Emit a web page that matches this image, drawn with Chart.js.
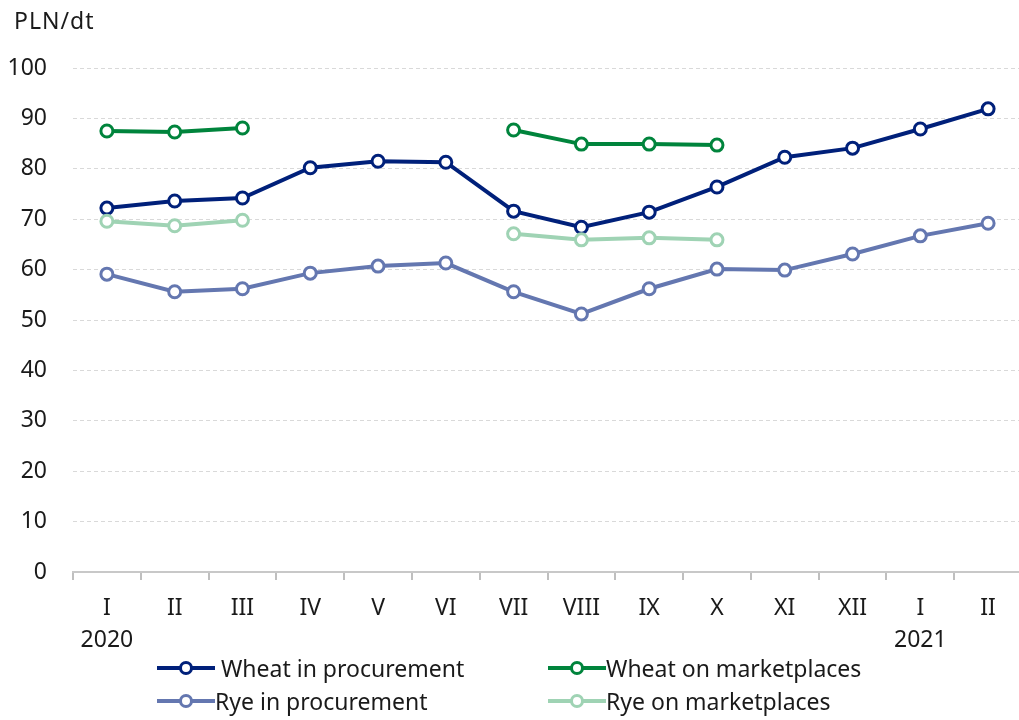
<!DOCTYPE html>
<html>
<head>
<meta charset="utf-8">
<script src="https://cdn.jsdelivr.net/npm/chart.js@4"></script>
<style>
html,body{margin:0;padding:0;background:#fff;overflow:hidden;}
#wrap{position:relative;width:1022px;height:720px;}
#legend{position:absolute;left:0;top:0;width:1022px;height:720px;pointer-events:none;font-family:"Noto Sans",sans-serif;font-size:23px;color:#1a1a1a;}
#title{position:absolute;left:14px;top:4px;font-family:"Noto Sans",sans-serif;font-size:23px;letter-spacing:1px;color:#1a1a1a;white-space:pre;}
.item{position:absolute;display:flex;align-items:center;height:30px;white-space:pre;}
.mk{position:relative;width:58px;height:30px;margin-right:0;}
.mk .ln{position:absolute;left:0;right:0;top:13px;height:4px;}
.mk .pt{position:absolute;left:22px;top:8px;width:8px;height:8px;border-radius:50%;background:#fff;border:3px solid;}
</style>
</head>
<body>
<div id="wrap">
<canvas id="c" width="1022" height="720"></canvas>
<div id="title">PLN/dt</div>
<div id="legend"></div>
</div>
<script>
const months = ["I","II","III","IV","V","VI","VII","VIII","IX","X","XI","XII","I","II"];
const years = ["2020","","","","","","","","","","","","2021",""];
const wheatProcurement = [72.2,73.6,74.2,80.2,81.5,81.3,71.6,68.4,71.4,76.4,82.3,84.1,87.9,91.9];
const wheatMarketplaces = [87.5,87.3,88.1,null,null,null,87.7,84.9,84.9,84.7,null,null,null,null];
const ryeProcurement = [59.1,55.6,56.2,59.3,60.7,61.3,55.6,51.2,56.2,60.1,59.9,63.1,66.7,69.2];
const ryeMarketplaces = [69.6,68.7,69.8,null,null,null,67.1,65.9,66.3,65.9,null,null,null,null];
const seriesNames = [" Wheat in procurement","Wheat on marketplaces","Rye in procurement","Rye on marketplaces"];
const seriesColors = ["#00207a","#00843c","#6477b0","#9fd3b4"];

const labels = months.map((m,i)=>[m, years[i]]);
const seriesData = [wheatProcurement, wheatMarketplaces, ryeProcurement, ryeMarketplaces];
const order = [2,3,0,1];
const datasets = seriesData.map((d,i)=>({
  label: seriesNames[i],
  data: d,
  borderColor: seriesColors[i],
  backgroundColor: "#ffffff",
  pointBackgroundColor: "#ffffff",
  pointBorderColor: seriesColors[i],
  borderWidth: 4,
  pointRadius: 6,
  pointBorderWidth: 3,
  pointHoverRadius: 6,
  tension: 0,
  spanGaps: false,
  clip: false,
  order: order[i]
}));

Chart.defaults.font.family = '"Noto Sans", sans-serif';
Chart.defaults.color = "#1a1a1a";

new Chart(document.getElementById("c"), {
  type: "line",
  data: { labels, datasets },
  options: {
    responsive: false,
    animation: false,
    layout: { autoPadding: false, padding: { left: 0, right: 0, top: 68, bottom: 0 } },
    plugins: {
      legend: { display: false },
      tooltip: { enabled: false },
      title: { display: false }
    },
    scales: {
      x: {
        offset: true,
        grid: { display: true, drawOnChartArea: false, drawTicks: true, tickLength: 8, offset: true, color: "#bfbfbf", lineWidth: 2 },
        border: { display: true, color: "#c8c8c8", width: 2 },
        ticks: { autoSkip: false, maxRotation: 0, padding: 13, font: { size: 23, lineHeight: 1.38 }, color: "#1a1a1a" },
        afterFit: s => { s.height = 148; }
      },
      y: {
        min: 0, max: 100,
        ticks: { stepSize: 10, padding: 26, font: { size: 23 }, color: "#1a1a1a" },
        grid: { drawTicks: false, color: "#d9d9d9", lineWidth: 1 },
        border: { display: false, dash: [4,3] },
        afterFit: s => { s.width = 73; }
      }
    }
  }
});

// HTML legend (two columns, two rows)
const legendPos = [
  {x:157, y:653},
  {x:548, y:653},
  {x:157, y:686},
  {x:548, y:686}
];
const lg = document.getElementById("legend");
seriesNames.forEach((n,i)=>{
  const it = document.createElement("div");
  it.className = "item";
  it.style.left = legendPos[i].x + "px";
  it.style.top = legendPos[i].y + "px";
  const mk = document.createElement("div");
  mk.className = "mk";
  const ln = document.createElement("div"); ln.className = "ln"; ln.style.background = seriesColors[i];
  const pt = document.createElement("div"); pt.className = "pt"; pt.style.borderColor = seriesColors[i];
  mk.appendChild(ln); mk.appendChild(pt);
  const tx = document.createElement("span"); tx.textContent = n;
  it.appendChild(mk); it.appendChild(tx);
  lg.appendChild(it);
});
</script>
</body>
</html>
